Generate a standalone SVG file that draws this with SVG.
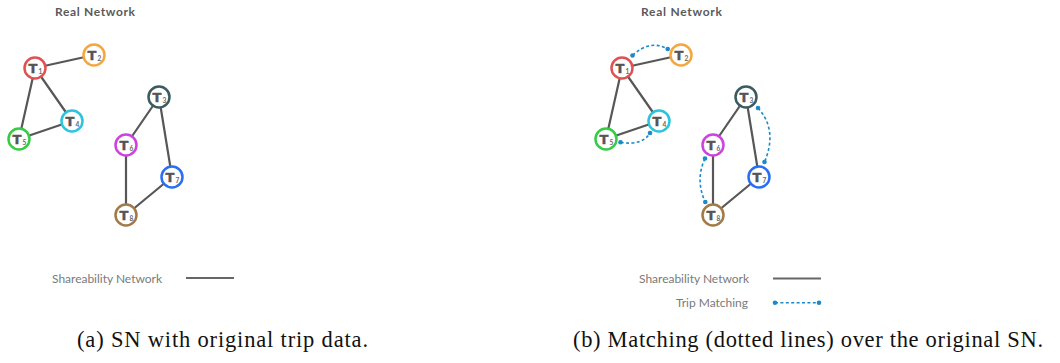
<svg xmlns="http://www.w3.org/2000/svg" width="1060" height="363" viewBox="0 0 1060 363">
  <style>
    .title { font-family: Lato, "Open Sans", sans-serif; font-weight: bold; font-size: 12px; fill: #5a5a5a; }
    .legend { font-family: Lato, "Open Sans", sans-serif; font-weight: normal; font-size: 12px; fill: #7a7a7a; }
    .caption { font-family: "Liberation Serif", "DejaVu Serif", serif; font-size: 22.5px; fill: #111; }
    .edge { stroke: #575757; stroke-width: 2.2; fill: none; stroke-linecap: round; }
    .match { stroke: #1a8ac8; stroke-width: 1.6; fill: none; stroke-dasharray: 3 2.4; }
    .dot { fill: #1a8ac8; }
    .node circle { fill: #fff; stroke-width: 2.5; }
    .lbl { font-family: "DejaVu Sans", sans-serif; font-weight: bold; font-size: 13px; fill: #555; text-anchor: middle; stroke: #555; stroke-width: 0.4; }
    .sub { font-family: Lato, "Open Sans", sans-serif; font-weight: bold; font-size: 6.5px; fill: #666; }
  </style>

  <!-- ===== Panel (a) ===== -->
  <text class="title" x="55" y="16" textLength="80">Real Network</text>

  <g id="a-connectors">
    <line class="edge" x1="35" y1="68" x2="94" y2="55"/>
    <line class="edge" x1="35" y1="68" x2="72" y2="121"/>
    <line class="edge" x1="35" y1="68" x2="19" y2="139"/>
    <line class="edge" x1="19" y1="139" x2="72" y2="121"/>
    <line class="edge" x1="159" y1="97" x2="126" y2="145"/>
    <line class="edge" x1="159" y1="97" x2="172" y2="177"/>
    <line class="edge" x1="126" y1="145" x2="126" y2="215"/>
    <line class="edge" x1="172" y1="177" x2="126" y2="215"/>
  </g>

  <g id="a-t1" class="node"><circle cx="35" cy="68" r="10.5" stroke="#e05252"/><text class="lbl" x="33" y="72.5">T</text><text class="sub" x="38.5" y="74">1</text></g>
  <g id="a-t2" class="node"><circle cx="94" cy="55" r="10.5" stroke="#f4a740"/><text class="lbl" x="92" y="59.5">T</text><text class="sub" x="97.5" y="61">2</text></g>
  <g id="a-t3" class="node"><circle cx="159" cy="97" r="10.5" stroke="#3b5b60"/><text class="lbl" x="157" y="101.5">T</text><text class="sub" x="162.5" y="103">3</text></g>
  <g id="a-t4" class="node"><circle cx="72" cy="121" r="10.5" stroke="#2cc4dc"/><text class="lbl" x="70" y="125.5">T</text><text class="sub" x="75.5" y="127">4</text></g>
  <g id="a-t5" class="node"><circle cx="19" cy="139" r="10.5" stroke="#35cc45"/><text class="lbl" x="17" y="143.5">T</text><text class="sub" x="22.5" y="145">5</text></g>
  <g id="a-t6" class="node"><circle cx="126" cy="145" r="10.5" stroke="#cc44dd"/><text class="lbl" x="124" y="149.5">T</text><text class="sub" x="129.5" y="151">6</text></g>
  <g id="a-t7" class="node"><circle cx="172" cy="177" r="10.5" stroke="#2a6ef4"/><text class="lbl" x="170" y="181.5">T</text><text class="sub" x="175.5" y="183">7</text></g>
  <g id="a-t8" class="node"><circle cx="126" cy="215" r="10.5" stroke="#a27a48"/><text class="lbl" x="124" y="219.5">T</text><text class="sub" x="129.5" y="221">8</text></g>

  <g id="a-legend">
    <text class="legend" x="52" y="283" textLength="110">Shareability Network</text>
    <line x1="186" y1="278" x2="234" y2="278" stroke="#666" stroke-width="2"/>
  </g>

  <text class="caption" x="77" y="347" textLength="291">(a) SN with original trip data.</text>

  <!-- ===== Panel (b) ===== -->
  <text class="title" x="641" y="16" textLength="81">Real Network</text>

  <g id="b-connectors">
    <line class="edge" x1="622" y1="68" x2="681" y2="55"/>
    <line class="edge" x1="622" y1="68" x2="659" y2="121"/>
    <line class="edge" x1="622" y1="68" x2="606" y2="139"/>
    <line class="edge" x1="606" y1="139" x2="659" y2="121"/>
    <line class="edge" x1="746" y1="97" x2="713" y2="145"/>
    <line class="edge" x1="746" y1="97" x2="759" y2="177"/>
    <line class="edge" x1="713" y1="145" x2="713" y2="215"/>
    <line class="edge" x1="759" y1="177" x2="713" y2="215"/>

    <!-- trip matching arcs -->
    <path class="match" d="M632.5,55.5 Q650,39 667.7,49"/>
    <circle class="dot" cx="632.5" cy="55.5" r="2.3"/>
    <circle class="dot" cx="667.7" cy="49" r="2.3"/>

    <path class="match" d="M620.5,142.3 Q642,146 650,133"/>
    <circle class="dot" cx="620.5" cy="142.3" r="2.3"/>
    <circle class="dot" cx="650" cy="133" r="2.3"/>

    <path class="match" d="M758,108 Q778,130 764.5,162"/>
    <circle class="dot" cx="758" cy="108" r="2.3"/>
    <circle class="dot" cx="764.5" cy="162" r="2.3"/>

    <path class="match" d="M705,158.5 Q695,180 705.3,202"/>
    <circle class="dot" cx="705" cy="158.5" r="2.3"/>
    <circle class="dot" cx="705.3" cy="202" r="2.3"/>
  </g>

  <g id="b-t1" class="node"><circle cx="622" cy="68" r="10.5" stroke="#e05252"/><text class="lbl" x="620" y="72.5">T</text><text class="sub" x="625.5" y="74">1</text></g>
  <g id="b-t2" class="node"><circle cx="681" cy="55" r="10.5" stroke="#f4a740"/><text class="lbl" x="679" y="59.5">T</text><text class="sub" x="684.5" y="61">2</text></g>
  <g id="b-t3" class="node"><circle cx="746" cy="97" r="10.5" stroke="#3b5b60"/><text class="lbl" x="744" y="101.5">T</text><text class="sub" x="749.5" y="103">3</text></g>
  <g id="b-t4" class="node"><circle cx="659" cy="121" r="10.5" stroke="#2cc4dc"/><text class="lbl" x="657" y="125.5">T</text><text class="sub" x="662.5" y="127">4</text></g>
  <g id="b-t5" class="node"><circle cx="606" cy="139" r="10.5" stroke="#35cc45"/><text class="lbl" x="604" y="143.5">T</text><text class="sub" x="609.5" y="145">5</text></g>
  <g id="b-t6" class="node"><circle cx="713" cy="145" r="10.5" stroke="#cc44dd"/><text class="lbl" x="711" y="149.5">T</text><text class="sub" x="716.5" y="151">6</text></g>
  <g id="b-t7" class="node"><circle cx="759" cy="177" r="10.5" stroke="#2a6ef4"/><text class="lbl" x="757" y="181.5">T</text><text class="sub" x="762.5" y="183">7</text></g>
  <g id="b-t8" class="node"><circle cx="713" cy="215" r="10.5" stroke="#a27a48"/><text class="lbl" x="711" y="219.5">T</text><text class="sub" x="716.5" y="221">8</text></g>

  <g id="b-legend">
    <text class="legend" x="639" y="283" textLength="110">Shareability Network</text>
    <line x1="773" y1="278.5" x2="821" y2="278.5" stroke="#666" stroke-width="2"/>
    <text class="legend" x="676" y="307" textLength="72">Trip Matching</text>
    <line class="match" x1="775" y1="302.7" x2="819" y2="302.7"/>
    <circle class="dot" cx="775" cy="302.7" r="2.3"/>
    <circle class="dot" cx="819" cy="302.7" r="2.3"/>
  </g>

  <text class="caption" x="573" y="347" textLength="470">(b) Matching (dotted lines) over the original SN.</text>
</svg>
